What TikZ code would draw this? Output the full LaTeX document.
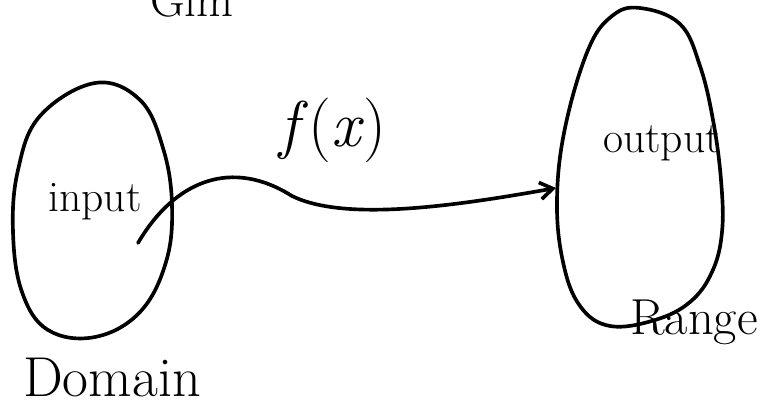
\documentclass[tikz,border=0pt]{standalone}
\usepackage{tikz}
\usetikzlibrary{arrows.meta, positioning}

\begin{document}
\begin{tikzpicture}[x=0.025cm, y=-0.025cm, line width=2.6pt, line cap=round, line join=round,
    every node/.style={font=\fontsize{31}{35}\selectfont, inner sep=0pt},
    setline/.style={line width=2.6pt, tension=0.65}]
    \useasboundingbox (0,0) rectangle (762,415);
    % Dominio
    \draw[setline] plot[smooth cycle] coordinates {(95,83) (140,100) (163,148) (172,205) (166,262)
        (140,312) (95,337) (48,330) (22,292) (13,232) (18,170) (40,116)};
    % Contradominio
    \draw[setline] plot[smooth cycle] coordinates {(640,8) (680,24) (700,66) (713,120) (721,180)
        (722,232) (712,272) (690,302) (655,320) (610,326) (580,306) (563,262) (557,200)
        (565,128) (588,50) (612,16)};
    % Textos
    \node (inp) at (95,202) {input};
    \node (outp) at (662,143) {output};
    \node[font=\fontsize{46}{50}\selectfont] (fx) at (333,130) {\textit{f}(\textit{x})};
    \node[font=\fontsize{36}{40}\selectfont] (rng) at (694,322) {Range};
    \node[font=\fontsize{40}{44}\selectfont] (dom) at (112,378) {Domain};
    \node[font=\fontsize{34}{38}\selectfont, anchor=base] (top) at (192,16) {Gim};
    % Funcao
    \coordinate (src) at (138,243);
    \coordinate (dst) at (556,188);
    \draw[-{Straight Barb[length=9pt, width=12pt]}] (src) .. controls (175,180) and (232,158) .. (292,196)
        .. controls (345,222) and (455,206) .. (dst);
\end{tikzpicture}
\end{document}
